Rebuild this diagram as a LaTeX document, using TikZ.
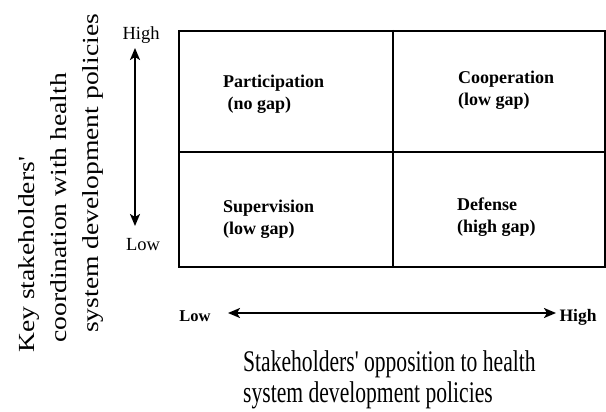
\documentclass[tikz,border=0pt]{standalone}
\usepackage{fontspec}
\setmainfont{Liberation Serif}
\newfontfamily\titlefont[FakeStretch=0.72]{Liberation Serif}
\newfontfamily\yfont[FakeStretch=1.2]{Liberation Serif}
\usetikzlibrary{arrows.meta}
\begin{document}
\begin{tikzpicture}[x=1pt,y=-1pt,
  quad/.style={font=\bfseries\fontsize{18}{22}\selectfont,align=left,anchor=north west,inner sep=0pt},
  axislbl/.style={font=\fontsize{18.5}{22}\selectfont,inner sep=0pt,anchor=base},
  hlbl/.style={font=\bfseries\fontsize{16.5}{20}\selectfont,inner sep=0pt,anchor=base},
  divider/.style={line width=1.4pt},
  axisarrow/.style={line width=2pt,{Stealth[length=12pt,width=10pt,inset=3pt]}-{Stealth[length=12pt,width=10pt,inset=3pt]}}]
\useasboundingbox (0,0) rectangle (606,412);
% grid
\node[draw,line width=2pt,minimum width=426pt,minimum height=236pt,inner sep=0pt,anchor=north west] (box) at (178,30) {};
\coordinate (vt) at (393,30);
\coordinate (hl) at (178,152);
\draw[divider] (vt) -- (vt |- box.south);
\draw[divider] (hl) -- (hl -| box.east);
% quadrant labels
\node[quad] (p) at (223,74.5) {Participation\\\ (no gap)};
\node[quad] (c) at (458,70.5) {Cooperation\\(low gap)};
\node[quad] (s) at (223,199.5) {Supervision\\(low gap)};
\node[quad] (d) at (457,197.5) {Defense\\(high gap)};
% vertical axis
\node[axislbl] (vh) at (141,40) {High};
\node[axislbl] (vl) at (143,250) {Low};
\coordinate (vtop) at (135,48);
\coordinate (vbot) at (135,226);
\draw[axisarrow] (vtop) -- (vbot);
% horizontal axis
\node[hlbl] (hlow) at (195,321) {Low};
\node[hlbl,font=\bfseries\fontsize{17.5}{20}\selectfont] (hhigh) at (578,321) {High};
\coordinate (hleft) at (228,313);
\coordinate (hright) at (556,313);
\draw[axisarrow] (hleft) -- (hright);
% axis titles
\node[font=\titlefont\fontsize{30}{31}\selectfont,align=left,inner sep=0pt,anchor=north west] (xt) at (243,350) {Stakeholders' opposition to health\\system development policies};
\node[font=\yfont\fontsize{23}{32}\selectfont,align=left,inner sep=0pt,rotate=90,anchor=north west] (yt) at (18,353) {Key stakeholders'\\\hspace*{10pt}coordination with health\\\hspace*{20pt}system development policies};
\end{tikzpicture}
\end{document}
